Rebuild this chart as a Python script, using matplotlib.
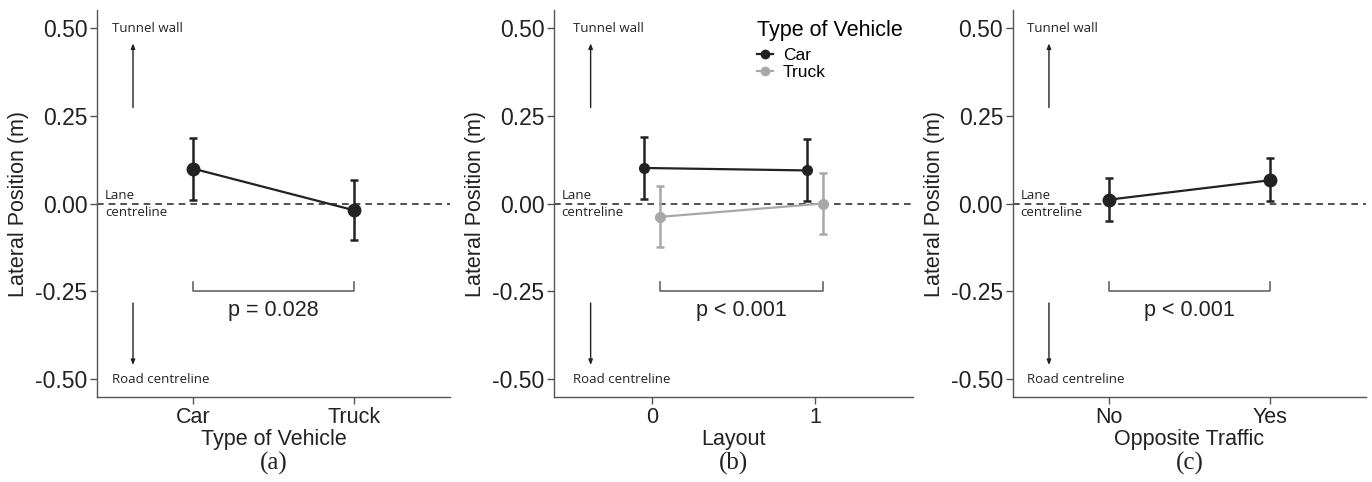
import numpy as np
import matplotlib
matplotlib.use("Agg")
import matplotlib.pyplot as plt

# panel (a): type of vehicle
veh_cats = ["Car", "Truck"]
veh_mean = [0.099, -0.019]
veh_lo = [0.009, -0.104]
veh_hi = [0.186, 0.068]

# panel (b): layout x vehicle
layout_ticks = [0, 1]
car_lay_mean = [0.101, 0.094]
car_lay_lo = [0.013, 0.007]
car_lay_hi = [0.189, 0.183]
truck_lay_mean = [-0.038, 0.000]
truck_lay_lo = [-0.125, -0.087]
truck_lay_hi = [0.050, 0.087]

# panel (c): opposite traffic
opp_cats = ["No", "Yes"]
opp_mean = [0.011, 0.066]
opp_lo = [-0.049, 0.006]
opp_hi = [0.073, 0.129]

p_texts = ["p = 0.028", "p < 0.001", "p < 0.001"]
yticks = [-0.50, -0.25, 0.00, 0.25, 0.50]

DARK = "#222222"
GREY = "#a8a8a8"
AXC = "#555555"
SANS = "Liberation Sans"
SMALL = "Open Sans"

fig = plt.figure(figsize=(13.72, 4.82), dpi=100)
axes = [fig.add_axes([0.0707, 0.1763, 0.2573, 0.803]),
        fig.add_axes([0.4038, 0.1763, 0.2617, 0.803]),
        fig.add_axes([0.7383, 0.1763, 0.2573, 0.803])]


def series(ax, x, m, lo, hi, color, ms):
    x = np.asarray(x, float)
    m = np.asarray(m)
    err = [m - np.asarray(lo), np.asarray(hi) - m]
    ax.errorbar(x, m, yerr=err, fmt="none", ecolor=color, elinewidth=1.8,
                capsize=3, capthick=1.8, zorder=3)
    ax.plot(x, m, "-", color=color, lw=1.6, zorder=3)
    ax.plot(x, m, "o", color=color, ms=ms, zorder=4)


def decorate(ax, xl, xlabel, tag, bracket, ptxt, tx_wall, tx_lane):
    ax.set_ylim(-0.55, 0.55)
    ax.set_xlim(*xl)
    ax.set_yticks(yticks)
    ax.set_yticklabels([f"{v:.2f}" for v in yticks], fontsize=16.5, family=SANS, color=DARK)
    for s in ["top", "right"]:
        ax.spines[s].set_visible(False)
    for s in ["left", "bottom"]:
        ax.spines[s].set_color(AXC)
        ax.spines[s].set_linewidth(1.0)
    ax.tick_params(colors=AXC, length=5, width=1.0, labelcolor=DARK, pad=2)
    ax.axhline(0, color="#333333", lw=1.2, ls=(0, (4, 3)), zorder=1)
    ax.set_ylabel("Lateral Position (m)", fontsize=15.5, family=SANS, color=DARK, labelpad=4)
    ax.set_xlabel(xlabel, fontsize=15.5, family=SANS, color=DARK, labelpad=1)
    ax.text(0.5, -0.172, tag, transform=ax.transAxes, ha="center", va="center",
            fontsize=18, family="Liberation Serif", color=DARK)

    # direction hints
    tr = ax.get_yaxis_transform()
    ax.annotate("", xy=(0.102, 0.463), xytext=(0.102, 0.265),
                xycoords=("axes fraction", "data"),
                arrowprops=dict(arrowstyle="-|>,head_length=0.3,head_width=0.12",
                                color=DARK, lw=1.0))
    ax.annotate("", xy=(0.102, -0.467), xytext=(0.102, -0.275),
                xycoords=("axes fraction", "data"),
                arrowprops=dict(arrowstyle="-|>,head_length=0.3,head_width=0.12",
                                color=DARK, lw=1.0))
    ax.text(tx_wall, 0.498, "Tunnel wall", transform=tr, ha="left", va="center",
            fontsize=9.5, family=SMALL, color=DARK)
    ax.text(tx_wall, -0.5, "Road centreline", transform=tr, ha="left", va="center",
            fontsize=9.5, family=SMALL, color=DARK)
    ax.text(tx_lane, -0.002, "Lane\ncentreline", transform=tr, ha="left", va="center",
            fontsize=9.5, family=SMALL, color=DARK, linespacing=1.4)

    # significance bracket
    x0, x1 = bracket
    ax.plot([x0, x0, x1, x1], [-0.222, -0.25, -0.25, -0.222], color="#666666", lw=1.2)
    ax.text((x0 + x1) / 2, -0.303, ptxt, ha="center", va="center",
            fontsize=15.5, family=SANS, color=DARK)


# (a)
ax = axes[0]
xa = np.arange(1, len(veh_cats) + 1)
series(ax, xa, veh_mean, veh_lo, veh_hi, DARK, 9)
ax.set_xticks(xa)
ax.set_xticklabels(veh_cats, fontsize=15.5, family=SANS)
decorate(ax, (0.4, 2.6), "Type of Vehicle", "(a)", (xa[0], xa[-1]), p_texts[0], 0.042, 0.023)

# (b)
ax = axes[1]
xb = np.array(layout_ticks, float)
dodge = 0.05
series(ax, xb - dodge, car_lay_mean, car_lay_lo, car_lay_hi, DARK, 7)
series(ax, xb + dodge, truck_lay_mean, truck_lay_lo, truck_lay_hi, GREY, 7)
ax.set_xticks(xb)
ax.set_xticklabels([str(v) for v in layout_ticks], fontsize=15.5, family=SANS)
decorate(ax, (-0.6, 1.6), "Layout", "(b)", (xb[0] + dodge, xb[-1] + dodge), p_texts[1], 0.053, 0.021)
h1, = ax.plot([], [], "-o", color=DARK, lw=1.6, ms=6)
h2, = ax.plot([], [], "-o", color=GREY, lw=1.6, ms=6)
leg = ax.legend([h1, h2], veh_cats, title="Type of Vehicle", loc="upper right",
                bbox_to_anchor=(1.0, 1.0), frameon=False, handlelength=0.9,
                handletextpad=0.6, labelspacing=0.08, borderaxespad=0.2,
                prop={"family": SANS, "size": 12.5},
                title_fontproperties={"family": SANS, "size": 15.5})
leg._legend_box.align = "left"
leg._legend_box.sep = 5

# (c)
ax = axes[2]
xc = np.arange(1, len(opp_cats) + 1)
series(ax, xc, opp_mean, opp_lo, opp_hi, DARK, 9)
ax.set_xticks(xc)
ax.set_xticklabels(opp_cats, fontsize=15.5, family=SANS)
decorate(ax, (0.4, 2.6), "Opposite Traffic", "(c)", (xc[0], xc[-1]), p_texts[2], 0.039, 0.022)

fig.savefig("out.png", dpi=100)
